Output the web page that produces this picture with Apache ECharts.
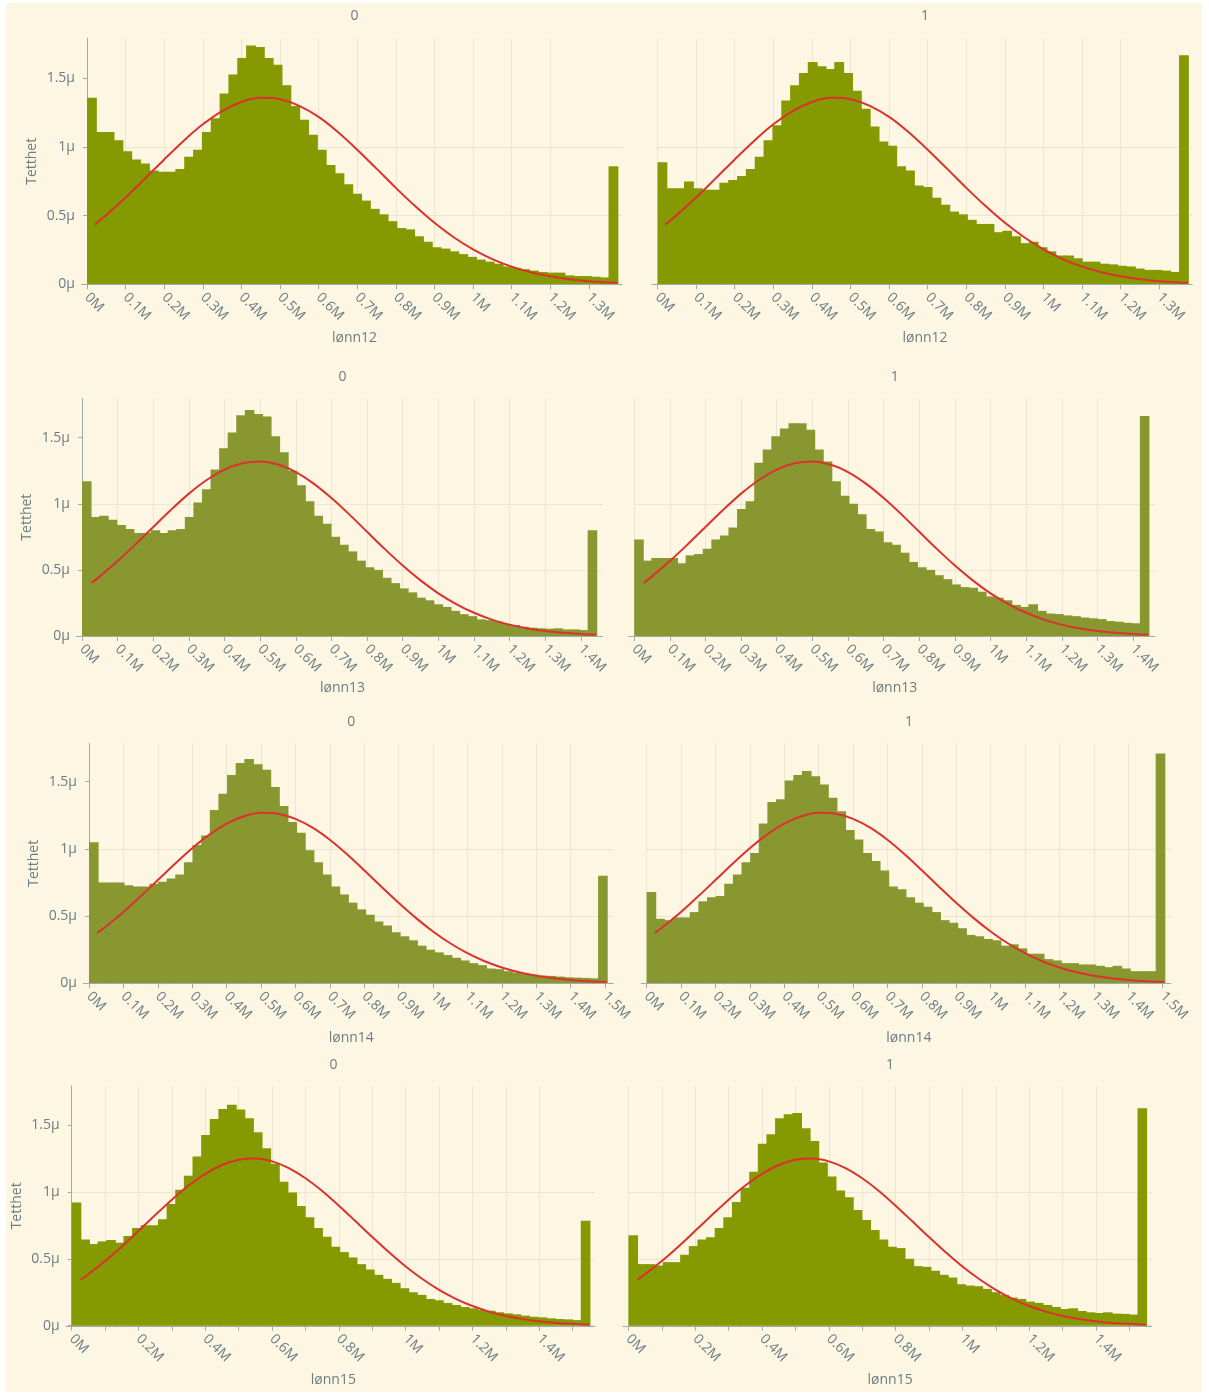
<!DOCTYPE html>
<html><head><meta charset="utf-8">
<script src="https://cdn.jsdelivr.net/npm/echarts@6/dist/echarts.min.js"></script>
<style>
html,body{margin:0;padding:0;background:#ffffff;}
#bg{position:absolute;left:6px;top:3px;width:1196px;height:1389px;background:#fdf6e3;}
#chart{position:absolute;left:0;top:0;width:1209px;height:1395px;}
</style></head><body><div id="bg"></div><div id="chart"></div>
<script>
// ---------------- DATA (density in μ, salary in M) ----------------
const groups = ['0', '1'];
const variables = ['lønn12', 'lønn13', 'lønn14', 'lønn15'];
const binMax = [1.374, 1.443, 1.505, 1.55];   // upper edge of the last bin (60 bins from 0)

const lonn12_0 = [1.36,1.11,1.11,1.05,0.97,0.91,0.88,0.83,0.82,0.82,
  0.84,0.93,0.98,1.11,1.21,1.39,1.53,1.65,1.74,1.73,
  1.65,1.60,1.45,1.30,1.20,1.09,0.98,0.87,0.81,0.73,
  0.66,0.61,0.55,0.51,0.46,0.41,0.40,0.35,0.31,0.27,
  0.26,0.24,0.22,0.20,0.18,0.165,0.15,0.13,0.12,0.11,
  0.10,0.09,0.085,0.085,0.065,0.06,0.06,0.055,0.05,0.86];
const lonn12_1 = [0.89,0.70,0.70,0.75,0.70,0.69,0.69,0.74,0.76,0.79,
  0.84,0.93,1.05,1.16,1.34,1.45,1.54,1.62,1.59,1.57,
  1.62,1.54,1.41,1.28,1.15,1.04,1.01,0.86,0.83,0.72,
  0.71,0.63,0.58,0.53,0.51,0.47,0.44,0.44,0.38,0.39,
  0.35,0.30,0.31,0.27,0.24,0.21,0.21,0.19,0.165,0.165,
  0.15,0.145,0.135,0.13,0.115,0.105,0.105,0.10,0.09,1.67];
const lonn13_0 = [1.17,0.90,0.91,0.88,0.84,0.81,0.78,0.78,0.80,0.78,
  0.80,0.81,0.90,1.01,1.11,1.26,1.42,1.54,1.67,1.71,
  1.68,1.66,1.51,1.39,1.25,1.14,1.02,0.91,0.85,0.75,
  0.69,0.64,0.57,0.52,0.50,0.44,0.40,0.36,0.33,0.29,
  0.27,0.24,0.22,0.19,0.165,0.15,0.126,0.12,0.11,0.09,
  0.083,0.07,0.063,0.058,0.055,0.058,0.05,0.05,0.045,0.80];
const lonn13_1 = [0.73,0.57,0.59,0.59,0.59,0.55,0.61,0.62,0.66,0.73,
  0.76,0.82,0.96,1.02,1.31,1.41,1.51,1.57,1.61,1.61,
  1.56,1.41,1.32,1.17,1.06,1.00,0.92,0.81,0.79,0.71,
  0.69,0.63,0.56,0.52,0.50,0.46,0.43,0.39,0.37,0.365,
  0.335,0.30,0.29,0.27,0.235,0.22,0.24,0.19,0.17,0.166,
  0.156,0.15,0.14,0.134,0.128,0.113,0.108,0.10,0.096,1.665];
const lonn14_0 = [1.05,0.75,0.75,0.75,0.73,0.72,0.72,0.74,0.755,0.78,
  0.81,0.90,1.03,1.10,1.29,1.41,1.55,1.64,1.67,1.63,
  1.59,1.46,1.32,1.20,1.12,0.99,0.90,0.81,0.72,0.66,
  0.60,0.55,0.51,0.46,0.43,0.38,0.35,0.32,0.28,0.25,
  0.23,0.21,0.19,0.17,0.15,0.135,0.11,0.105,0.09,0.08,
  0.072,0.065,0.058,0.055,0.05,0.045,0.042,0.04,0.037,0.80];
const lonn14_1 = [0.68,0.48,0.47,0.49,0.49,0.53,0.61,0.64,0.65,0.74,
  0.81,0.90,0.97,1.19,1.35,1.37,1.51,1.55,1.58,1.54,
  1.48,1.38,1.28,1.14,1.07,0.97,0.91,0.84,0.72,0.70,
  0.64,0.60,0.57,0.53,0.47,0.45,0.41,0.36,0.35,0.33,
  0.32,0.28,0.29,0.26,0.22,0.22,0.18,0.17,0.15,0.15,
  0.14,0.14,0.13,0.12,0.13,0.11,0.09,0.09,0.09,1.71];
const lonn15_0 = [0.92,0.645,0.61,0.63,0.64,0.62,0.67,0.73,0.75,0.75,
  0.795,0.91,1.015,1.12,1.265,1.425,1.545,1.62,1.65,1.615,
  1.55,1.445,1.325,1.21,1.075,0.995,0.895,0.81,0.73,0.665,
  0.59,0.55,0.51,0.46,0.42,0.38,0.35,0.32,0.28,0.25,
  0.23,0.20,0.19,0.17,0.155,0.14,0.13,0.117,0.112,0.10,
  0.092,0.085,0.075,0.067,0.062,0.055,0.05,0.047,0.042,0.785];
const lonn15_1 = [0.675,0.46,0.46,0.45,0.475,0.475,0.53,0.595,0.645,0.66,
  0.73,0.81,0.925,1.03,1.15,1.36,1.43,1.55,1.58,1.59,
  1.475,1.38,1.22,1.115,1.01,0.96,0.865,0.79,0.715,0.645,
  0.59,0.58,0.50,0.445,0.44,0.41,0.38,0.36,0.31,0.30,
  0.295,0.275,0.25,0.23,0.21,0.20,0.18,0.17,0.155,0.14,
  0.125,0.13,0.11,0.10,0.095,0.10,0.09,0.088,0.083,1.625];

// fitted normal curve [salary M, density μ]
const curve12 = [[0.02,0.435],[0.05,0.505],[0.1,0.632],[0.15,0.770],[0.2,0.910],[0.25,1.045],[0.3,1.166],[0.35,1.263],[0.4,1.329],[0.45,1.359],[0.5,1.349],[0.55,1.301],[0.6,1.220],[0.65,1.110],[0.7,0.981],[0.75,0.843],[0.8,0.703],[0.85,0.570],[0.9,0.448],[0.95,0.343],[1.0,0.255],[1.05,0.184],[1.1,0.129],[1.15,0.088],[1.2,0.058],[1.25,0.037],[1.3,0.023],[1.35,0.014],[1.374,0.011]];
const curve13 = [[0.027,0.402],[0.05,0.451],[0.1,0.567],[0.15,0.693],[0.2,0.825],[0.25,0.955],[0.3,1.077],[0.35,1.180],[0.4,1.259],[0.45,1.307],[0.5,1.320],[0.55,1.297],[0.6,1.240],[0.65,1.153],[0.7,1.044],[0.75,0.920],[0.8,0.788],[0.85,0.657],[0.9,0.533],[0.95,0.421],[1.0,0.323],[1.05,0.242],[1.1,0.176],[1.15,0.124],[1.2,0.086],[1.25,0.057],[1.3,0.037],[1.35,0.024],[1.4,0.015],[1.443,0.009]];
const curve14 = [[0.024,0.374],[0.05,0.424],[0.1,0.530],[0.15,0.647],[0.2,0.768],[0.25,0.890],[0.3,1.005],[0.35,1.106],[0.4,1.188],[0.45,1.243],[0.5,1.269],[0.55,1.262],[0.6,1.224],[0.65,1.158],[0.7,1.068],[0.75,0.960],[0.8,0.841],[0.85,0.719],[0.9,0.599],[0.95,0.487],[1.0,0.386],[1.05,0.298],[1.1,0.224],[1.15,0.164],[1.2,0.118],[1.25,0.082],[1.3,0.056],[1.35,0.037],[1.4,0.024],[1.45,0.015],[1.505,0.009]];
const curve15 = [[0.027,0.343],[0.05,0.385],[0.1,0.483],[0.15,0.592],[0.2,0.709],[0.25,0.827],[0.3,0.942],[0.35,1.047],[0.4,1.135],[0.45,1.201],[0.5,1.240],[0.55,1.249],[0.6,1.228],[0.65,1.178],[0.7,1.102],[0.75,1.007],[0.8,0.897],[0.85,0.780],[0.9,0.662],[0.95,0.548],[1.0,0.442],[1.05,0.349],[1.1,0.268],[1.15,0.201],[1.2,0.147],[1.25,0.105],[1.3,0.073],[1.35,0.050],[1.4,0.033],[1.45,0.021],[1.5,0.014],[1.55,0.008]];

// tick values
const yTicks = [0, 0.5, 1, 1.5];
const xTicks12 = [0,0.1,0.2,0.3,0.4,0.5,0.6,0.7,0.8,0.9,1,1.1,1.2,1.3];
const xTicks13 = [0,0.1,0.2,0.3,0.4,0.5,0.6,0.7,0.8,0.9,1,1.1,1.2,1.3,1.4];
const xTicks14 = [0,0.1,0.2,0.3,0.4,0.5,0.6,0.7,0.8,0.9,1,1.1,1.2,1.3,1.4,1.5];
const xTicks15 = [0,0.1,0.2,0.3,0.4,0.5,0.6,0.7,0.8,0.9,1,1.1,1.2,1.3,1.4,1.5];
const xLabels15 = [0,0.2,0.4,0.6,0.8,1,1.2,1.4];

const seriesData = [[lonn12_0, lonn12_1],[lonn13_0, lonn13_1],[lonn14_0, lonn14_1],[lonn15_0, lonn15_1]];
const curves = [curve12, curve13, curve14, curve15];
const xTicks = [xTicks12, xTicks13, xTicks14, xTicks15];
const xLabelVals = [xTicks12, xTicks13, xTicks14, xLabels15];

// ---------------- LAYOUT / STYLE ----------------
const layout = [
  {top: 38.3, height: 246, lefts: [87, 657.5], width: 535, xMax: 1.386, yMax: 1.793, color: '#859900', titleY: 16, xTitleY: 338},
  {top: 398.3, height: 237.7, lefts: [82, 634.2], width: 521, xMax: 1.462, yMax: 1.798, color: '#889730', titleY: 377, xTitleY: 688},
  {top: 743.3, height: 240, lefts: [89, 646.6], width: 524.6, xMax: 1.525, yMax: 1.786, color: '#889730', titleY: 722, xTitleY: 1038},
  {top: 1086, height: 239.7, lefts: [71.7, 628.4], width: 523.4, xMax: 1.567, yMax: 1.791, color: '#859900', titleY: 1065, xTitleY: 1380}
];
const FONT = "'Open Sans', 'Noto Sans', sans-serif";
const TXT = '#6b7d84';
const AXIS = '#a2aaaa';
const GRID = '#ece5cf';
const RED = '#dc322f';
const Y_OFFSET = 6;

function fmtM(v) {
  const r = Math.round(v * 10) / 10;
  return (r === 0 ? '0' : String(r)) + 'M';
}

const grids = [], xAxes = [], yAxes = [], series = [], graphics = [];

layout.forEach((L, ri) => {
  const bw = binMax[ri] / 60;
  [0, 1].forEach(c => {
    const k = ri * 2 + c;
    const left = L.lefts[c];
    grids.push({left: left, top: L.top, width: L.width, height: L.height, containLabel: false});
    const labelVals = xLabelVals[ri];
    xAxes.push({
      gridIndex: k, type: 'value', min: 0, max: L.xMax, interval: 0.1,
      axisLine: {show: false},
      axisTick: {show: true, length: 5, lineStyle: {color: AXIS}, customValues: xTicks[ri]},
      axisLabel: {
        rotate: -45, margin: 11, color: TXT, fontSize: 14, fontFamily: FONT,
        customValues: labelVals,
        formatter: v => {
          const r = Math.round(v * 10) / 10;
          return labelVals.some(t => Math.abs(t - r) < 1e-6) && Math.abs(v - r) < 1e-6 ? fmtM(v) : '';
        }
      },
      splitLine: {show: true, showMaxLine: false, lineStyle: {color: GRID, width: 1}}
    });
    const isLeft = c === 0;
    yAxes.push({
      gridIndex: k, type: 'value', min: 0, max: L.yMax, interval: 0.5,
      offset: isLeft ? Y_OFFSET : 0,
      axisLine: {show: isLeft, lineStyle: {color: AXIS, width: 1}},
      axisTick: {show: isLeft, length: 4, lineStyle: {color: AXIS}, customValues: yTicks},
      axisLabel: {show: isLeft, margin: 6, color: TXT, fontSize: 14, fontFamily: FONT,
        customValues: yTicks,
        formatter: v => (v === 0 ? '0' : String(v)) + 'μ'},
      splitLine: {show: true, showMaxLine: false, lineStyle: {color: GRID, width: 1}}
    });
    const vals = seriesData[ri][c];
    const barData = vals.map((v, i) => [i * bw, (i + 1) * bw, v]);
    const col = L.color;
    series.push({
      type: 'custom', xAxisIndex: k, yAxisIndex: k, data: barData,
      encode: {x: [0, 1], y: 2}, silent: true, z: 2,
      renderItem: (params, api) => {
        const a = api.coord([api.value(0), api.value(2)]);
        const b = api.coord([api.value(1), 0]);
        return {type: 'rect', shape: {x: a[0], y: a[1], width: b[0] - a[0] + 1, height: b[1] - a[1]},
          style: {fill: col}};
      }
    });
    series.push({
      type: 'line', xAxisIndex: k, yAxisIndex: k, data: curves[ri],
      smooth: 0.3, showSymbol: false, silent: true, z: 3,
      lineStyle: {color: RED, width: 2}
    });
    // x axis baseline, extended to the y axis line like the original
    const yb = Math.round(L.top + L.height) + 0.5;
    graphics.push({type: 'line', z: 10, shape: {x1: left - Y_OFFSET, y1: yb, x2: left + L.width, y2: yb},
      style: {stroke: AXIS, lineWidth: 1}, silent: true});
    graphics.push({type: 'text', x: left + L.width / 2, y: L.titleY,
      style: {text: groups[c], fill: TXT, font: '14px ' + FONT, textAlign: 'center', textVerticalAlign: 'middle'}});
    graphics.push({type: 'text', x: left + L.width / 2, y: L.xTitleY,
      style: {text: variables[ri], fill: TXT, font: '14px ' + FONT, textAlign: 'center', textVerticalAlign: 'middle'}});
    if (isLeft) {
      graphics.push({type: 'text', x: left - Y_OFFSET - 49, y: L.top + L.height / 2, rotation: Math.PI / 2,
        style: {text: 'Tetthet', fill: TXT, font: '14px ' + FONT, textAlign: 'center', textVerticalAlign: 'middle'}});
    }
  });
});

const chart = echarts.init(document.getElementById('chart'), null, {renderer: 'canvas'});
chart.setOption({
  backgroundColor: 'transparent',
  animation: false,
  textStyle: {fontFamily: FONT},
  grid: grids, xAxis: xAxes, yAxis: yAxes, series: series, graphic: graphics
});
</script></body></html>
